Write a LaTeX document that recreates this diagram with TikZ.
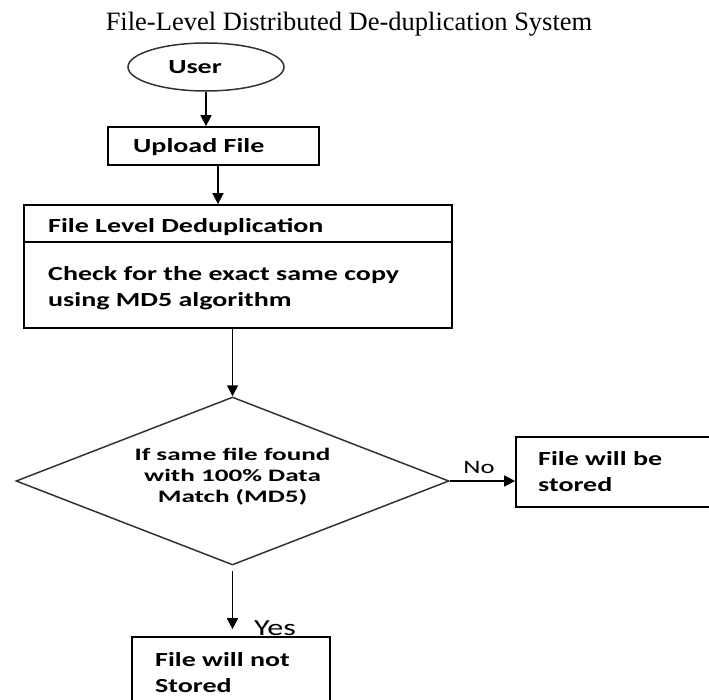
\documentclass[tikz,border=0pt]{standalone}
\usepackage{fontspec}
\setmainfont{Liberation Serif}
\newfontfamily\boxfont[FakeStretch=1.4]{Carlito}
\newfontfamily\widefont[FakeStretch=1.55]{Carlito}
\usetikzlibrary{shapes.geometric,arrows.meta}

\tikzset{
  box/.style={draw, line width=1.7pt, inner sep=0pt},
  boxtext/.style={font=\boxfont\bfseries\fontsize{20}{26}\selectfont,
    align=left, inner sep=0pt, anchor=base west},
  dtext/.style={font=\widefont\bfseries\fontsize{17.5}{21}\selectfont,
    align=center, inner sep=0pt, anchor=base},
  edgelabel/.style={font=\boxfont\fontsize{19}{22}\selectfont,
    inner sep=0pt, anchor=base},
  flow/.style={line width=1.6pt, -{Triangle[length=11pt,width=11pt]}},
}

\begin{document}
\begin{tikzpicture}[x=1pt,y=-1pt]
\useasboundingbox (0,0) rectangle (709,700);
\clip (0,0) rectangle (709,700);

% heading
\node[font=\fontsize{26.5}{30}\selectfont, inner sep=0pt, anchor=base]
  (title) at (349,31) {File-Level Distributed De-duplication System};

% start
\node[ellipse, draw=black!80, line width=1.5pt, minimum width=156,
  minimum height=48, inner sep=0pt] (user) at (206,67) {};
\node[boxtext, anchor=base] (usertext) at (195,74) {User};

% upload step
\node[box, minimum width=211, minimum height=38] (upload) at (213.5,146) {};
\node[boxtext] (uploadtext) at (133,153) {Upload File};

% de-duplication step with header row
\node[box, minimum width=428, minimum height=123] (dedup) at (238,266.5) {};
\draw[line width=1.7pt] (dedup.west |- 0,242) -- (dedup.east |- 0,242);
\node[boxtext] (deduphead) at (48,233) {File Level Deduplication};
% multi-line nodes: the base anchor sits on the last line
\node[boxtext] (dedupbody) at (48,307) {Check for the exact same copy\\using MD5 algorithm};

% decision
\node[diamond, draw=black!80, line width=1.5pt, minimum width=433,
  minimum height=168, shape aspect=2.58, inner sep=0pt] (check) at (232.5,481) {};
\node[dtext] (checktext) at (232.5,502.5) {If same file found\\with 100\% Data\\Match (MD5)};

% outcomes
\node[box, minimum width=244, minimum height=70] (stored) at (638,472) {};
\node[boxtext] (storedtext) at (538,491) {File will be\\stored};

\node[box, minimum width=198, minimum height=100] (notstored) at (231,687) {};
\node[boxtext] (notstoredtext) at (155,692) {File will not\\Stored};

% connectors
\draw[flow] (user.south) -- (user.south |- upload.north);
\draw[flow] ([xshift=4.5pt]upload.south) -- ([xshift=4.5pt]upload.south |- dedup.north);
\draw[flow] (check.north |- dedup.south) -- (check.north);
\draw[flow] (check.east) -- (check.east -| stored.west);
\draw[flow, shorten <=5pt, shorten >=7pt] (check.south) -- (check.south |- notstored.north);

\node[edgelabel] (nolabel) at (479,473) {No};
\node[edgelabel, font=\boxfont\fontsize{23}{26}\selectfont] (yeslabel) at (275,635) {Yes};
\end{tikzpicture}
\end{document}
